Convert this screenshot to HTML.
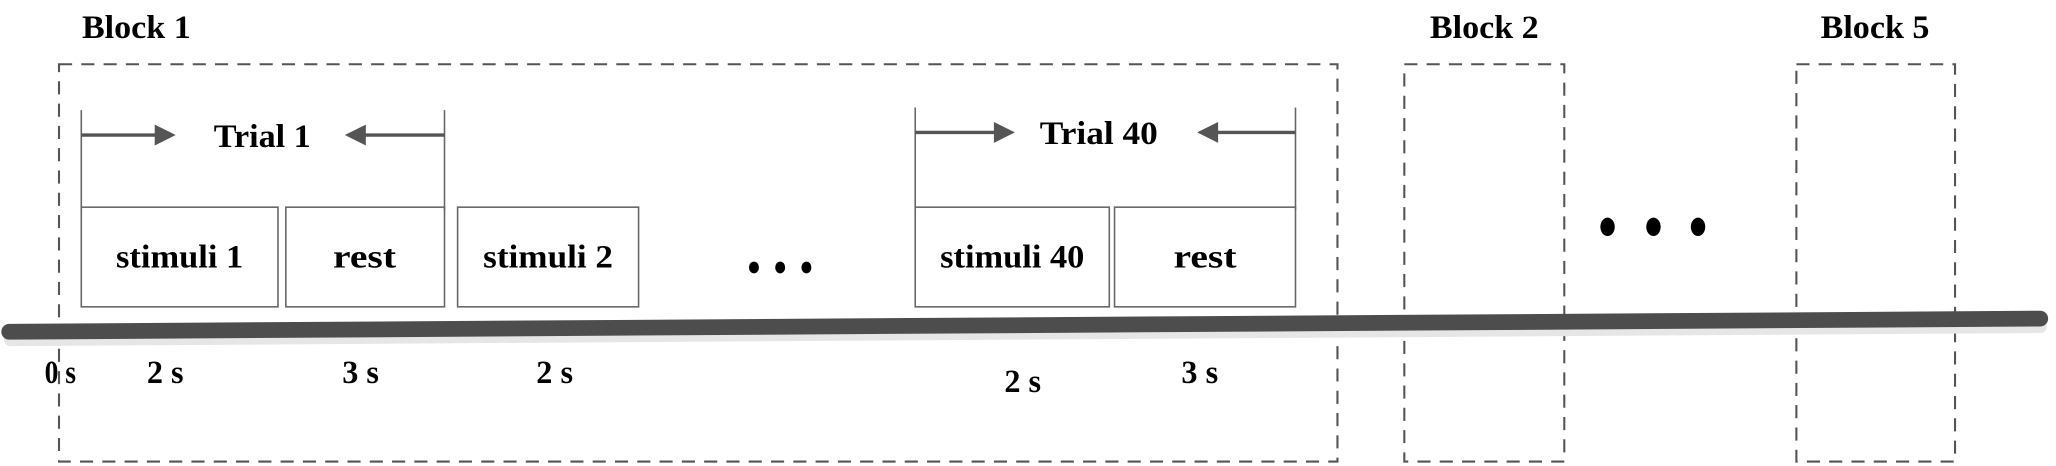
<!DOCTYPE html>
<html><head><meta charset="utf-8"><style>html,body{margin:0;padding:0;background:#fff}svg{display:block}</style></head>
<body>
<svg width="2056" height="466" viewBox="0 0 1568 355.4" preserveAspectRatio="none" xmlns="http://www.w3.org/2000/svg" font-family="'Liberation Serif', serif" font-weight="bold">
<g fill="none" stroke="#555" stroke-width="1.6" stroke-dasharray="10,7">
<rect x="45" y="49" width="975" height="303"/>
<rect x="1071" y="49" width="122" height="303"/>
<rect x="1370" y="49" width="121" height="303"/>
</g>
<g font-size="25" fill="#000" text-anchor="middle">
<text x="104" y="29" textLength="83" lengthAdjust="spacingAndGlyphs">Block 1</text>
<text x="1132" y="29" textLength="83" lengthAdjust="spacingAndGlyphs">Block 2</text>
<text x="1430" y="29" textLength="83" lengthAdjust="spacingAndGlyphs">Block 5</text>
</g>
<g fill="none" stroke="#666" stroke-width="1.2">
<rect x="62" y="158" width="150" height="76"/>
<rect x="218" y="158" width="121" height="76"/>
<rect x="349" y="158" width="138" height="76"/>
<rect x="698" y="158" width="148" height="76"/>
<rect x="850" y="158" width="138" height="76"/>
<line x1="62" y1="84" x2="62" y2="160"/>
<line x1="339" y1="84" x2="339" y2="160"/>
<line x1="698" y1="82" x2="698" y2="160"/>
<line x1="988" y1="82" x2="988" y2="160"/>
</g>
<g stroke="#555" stroke-width="2.5">
<line x1="62" y1="103" x2="122" y2="103"/>
<line x1="339" y1="103" x2="275" y2="103"/>
<line x1="698" y1="101" x2="762" y2="101"/>
<line x1="988" y1="101" x2="925" y2="101"/>
</g>
<g fill="#555">
<polygon points="134,103 118,95 118,111"/>
<polygon points="263,103 279,95 279,111"/>
<polygon points="774,101 758,93 758,109"/>
<polygon points="913,101 929,93 929,109"/>
</g>
<g font-size="25" fill="#000" text-anchor="middle">
<text x="200" y="112" textLength="74" lengthAdjust="spacingAndGlyphs">Trial 1</text>
<text x="838" y="110" textLength="90" lengthAdjust="spacingAndGlyphs">Trial 40</text>
<text x="137" y="204" textLength="97" lengthAdjust="spacingAndGlyphs">stimuli 1</text>
<text x="278" y="204" textLength="48" lengthAdjust="spacingAndGlyphs">rest</text>
<text x="418" y="204" textLength="99" lengthAdjust="spacingAndGlyphs">stimuli 2</text>
<text x="772" y="204" textLength="110" lengthAdjust="spacingAndGlyphs">stimuli 40</text>
<text x="919" y="204" textLength="48" lengthAdjust="spacingAndGlyphs">rest</text>
<text x="46" y="292" textLength="24" lengthAdjust="spacingAndGlyphs">0 s</text>
<text x="126" y="292" textLength="28" lengthAdjust="spacingAndGlyphs">2 s</text>
<text x="275" y="292" textLength="28" lengthAdjust="spacingAndGlyphs">3 s</text>
<text x="423" y="292" textLength="28" lengthAdjust="spacingAndGlyphs">2 s</text>
<text x="780" y="299" textLength="28" lengthAdjust="spacingAndGlyphs">2 s</text>
<text x="915" y="292" textLength="28" lengthAdjust="spacingAndGlyphs">3 s</text>
</g>
<g fill="#000">
<ellipse cx="575" cy="204" rx="3.8" ry="4.5"/><ellipse cx="595" cy="204" rx="3.8" ry="4.5"/><ellipse cx="615" cy="204" rx="3.8" ry="4.5"/>
<ellipse cx="1226" cy="173" rx="5.5" ry="7"/><ellipse cx="1261" cy="173" rx="5.5" ry="7"/><ellipse cx="1295" cy="173" rx="5.5" ry="7"/>
</g>
<line x1="8" y1="259" x2="1556" y2="249" stroke="#e6e6e6" stroke-width="10" stroke-linecap="round"/>
<line x1="7" y1="253" x2="1556" y2="243" stroke="#4d4d4d" stroke-width="12" stroke-linecap="round"/>
</svg>
</body></html>
